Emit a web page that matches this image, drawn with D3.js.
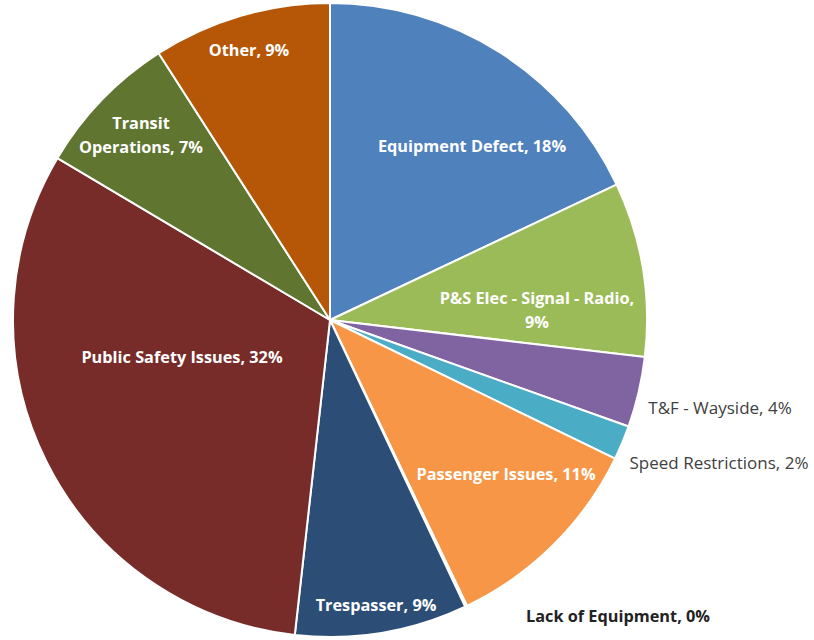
<!DOCTYPE html>
<html><head><meta charset="utf-8">
<script src="https://cdn.jsdelivr.net/npm/d3@7"></script>
<style>body{margin:0;background:#fff}svg{display:block}text{font-family:"Open Sans",Lato,sans-serif}</style>
</head><body>
<svg id="c" width="814" height="640"></svg>
<script>
const categories = ["Equipment Defect","P&S Elec - Signal - Radio","T&F - Wayside","Speed Restrictions","Passenger Issues","Lack of Equipment","Trespasser","Public Safety Issues","Transit Operations","Other"];
const values = [18.0, 8.9, 3.6, 1.75, 10.7, 0.1, 8.8, 31.8, 7.4, 9.1];
const pctLabels = ["18%","9%","4%","2%","11%","0%","9%","32%","7%","9%"];
const colors = ["#4F81BD","#9BBB59","#8064A2","#4BACC6","#F79646","#C0504D","#2C4D75","#772C2A","#5F7530","#B65708"];
// label layout: lines, anchor position (center of first line), style
const labelLines = [
  ["Equipment Defect, 18%"],
  ["P&S Elec - Signal - Radio,","9%"],
  ["T&F - Wayside, 4%"],
  ["Speed Restrictions, 2%"],
  ["Passenger Issues, 11%"],
  ["Lack of Equipment, 0%"],
  ["Trespasser, 9%"],
  ["Public Safety Issues, 32%"],
  ["Transit","Operations, 7%"],
  ["Other, 9%"]
];
const labelXY = [[472,146],[537,298],[720,408],[719,463],[506,474],[618,616],[376,605],[182,357],[141,123],[249,50]];
const labelStyle = ["in","in","out","out","in","outb","in","in","in","in"];
const fontSize = {in:16.3, out:17, outb:16.3};

const svg = d3.select("#c");
const cx = 330, cy = 320, R = 317;
const pie = d3.pie().sort(null).value(d=>d)(values);
const arc = d3.arc().innerRadius(0).outerRadius(R);
const g = svg.append("g").attr("transform",`translate(${cx},${cy})`);
g.selectAll("path").data(pie).join("path")
  .attr("d",arc).attr("fill",(d,i)=>colors[i])
  .attr("stroke","#fff").attr("stroke-width",2).attr("stroke-linejoin","round");

const lab = svg.append("g");
labelLines.forEach((lines,i)=>{
  const st = labelStyle[i];
  const t = lab.append("text")
    .attr("x",labelXY[i][0]).attr("y",labelXY[i][1])
    .attr("text-anchor","middle")
    .attr("font-size",fontSize[st])
    .attr("font-weight", st==="out" ? 400 : 700)
    .attr("fill", st==="in" ? "#fff" : (st==="out" ? "#404040" : "#222"));
  lines.forEach((l,k)=>{
    t.append("tspan").attr("x",labelXY[i][0]).attr("dy", k===0 ? "5.5px" : "24px").text(l);
  });
});
</script>
</body></html>
